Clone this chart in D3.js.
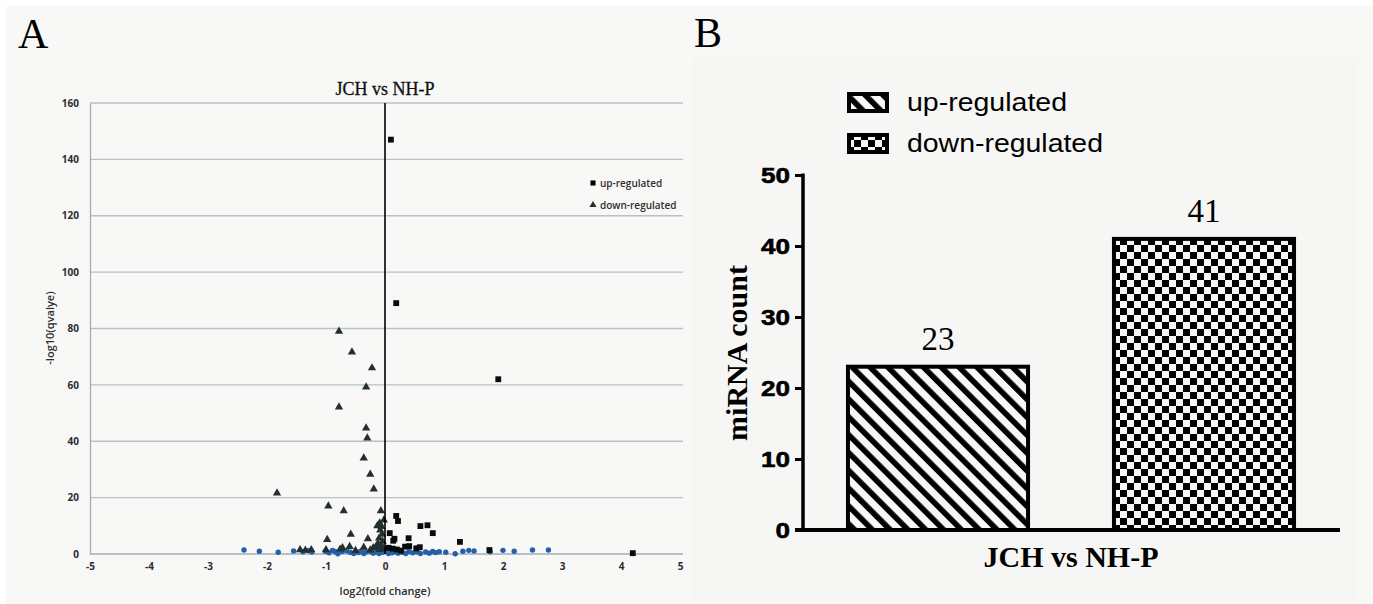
<!DOCTYPE html>
<html>
<head>
<meta charset="utf-8">
<script src="https://cdn.jsdelivr.net/npm/d3@7"></script>
<style>
html,body{margin:0;padding:0;background:#ffffff;}
svg{display:block;}
</style>
</head>
<body>
<svg id="chart" width="1373" height="604"></svg>
<script>
// ---------- Panel A data (volcano plot) ----------
const aTitle = "JCH vs NH-P";
const aXTicks = [-5,-4,-3,-2,-1,0,1,2,3,4,5];
const aYTicks = [0,20,40,60,80,100,120,140,160];
const legendA = ["up-regulated","down-regulated"];

const upX = [0.10,0.19,1.92,4.20,0.19,0.22,0.60,0.72,0.81,0.08,0.16,0.14,0.40,1.27,0.34,0.41,0.53,0.59,0.13,0.20,1.77,0.06,0.27];
const upY = [147,89,62,0.3,13.5,11.7,9.9,10.2,7.4,7.4,5.4,4.7,5.6,4.3,2.6,2.8,2.0,2.4,1.9,1.6,1.4,2.2,1.2];

const downX = [-0.78,-0.56,-0.22,-0.32,-0.78,-0.32,-0.30,-0.36,-0.25,-0.19,-1.83,-0.96,-0.70,-0.07,-0.58,-0.98,-0.29,-0.09,-0.13,-0.06,-0.08,-0.05,-0.10,-0.04,-0.12,-0.07,-0.15,-0.20,-0.60,-0.36,-1.44,-1.35,-1.25,-1.00,-0.76,-0.02,-0.03,-0.09,-0.25,-0.50,-0.72];
const downY = [79,71.6,66,59.2,52.1,44.7,41.1,34,28.3,23,21.6,17,15.3,15.3,7.0,5.1,5.4,11,10,9.7,8.5,7.0,5.6,4.5,3.8,3.0,2.6,2.2,2.6,2.4,1.5,1.3,1.5,1.5,1.7,12,2.0,1.6,1.4,1.2,2.2];

const nsX = [-2.39,-2.13,-1.81,-1.55,-1.39,-1.30,-1.24,-1.01,-0.95,-0.89,-0.85,-0.80,-0.73,-0.65,-0.59,-0.53,-0.49,-0.45,-0.41,-0.36,-0.33,-0.25,-0.20,-0.15,-0.10,-0.04,0.03,0.06,0.08,0.12,0.15,0.22,0.25,0.29,0.35,0.41,0.47,0.54,0.60,0.69,0.75,0.81,0.86,0.92,1.03,1.19,1.32,1.42,1.51,1.78,2.00,2.19,2.50,2.77];
const nsY = [1.4,1.0,0.6,1.1,0.8,1.2,0.7,1.0,0.4,1.3,0.9,0.1,0.9,1.1,0.6,0.2,0.8,0.5,1.0,0.2,0.7,0.9,0.3,0.8,0.2,0.6,0.9,0.2,1.2,0.4,0.8,0.3,1.0,0.6,0.2,0.9,0.4,0.8,0.2,0.7,0.3,0.9,0.5,0.8,0.6,0.1,1.0,1.3,1.1,0.8,1.3,1.0,1.4,1.4];

// ---------- Panel B data (bar chart) ----------
const bCategories = ["up-regulated","down-regulated"];
const bValues = [23,41];
const bYTicks = [0,10,20,30,40,50];
const bXLabel = "JCH vs NH-P";
const bYLabel = "miRNA count";

const svg = d3.select("#chart");
const defs = svg.append("defs");

// patterns
const stripe = defs.append("pattern").attr("id","stripes")
  .attr("patternUnits","userSpaceOnUse").attr("width",12.6).attr("height",12.6)
  .attr("patternTransform","rotate(-45)");
stripe.append("rect").attr("width",12.6).attr("height",12.6).attr("fill","#f7f7f5");
stripe.append("rect").attr("width",5.6).attr("height",12.6).attr("fill","#000");

const checker = defs.append("pattern").attr("id","checker")
  .attr("patternUnits","userSpaceOnUse").attr("width",14).attr("height",14);
checker.append("rect").attr("width",14).attr("height",14).attr("fill","#f7f7f5");
checker.append("rect").attr("width",7).attr("height",7).attr("fill","#000");
checker.append("rect").attr("x",7).attr("y",7).attr("width",7).attr("height",7).attr("fill","#000");

const fills = ["url(#stripes)","url(#checker)"];

// backgrounds
svg.append("rect").attr("x",6).attr("y",6).attr("width",1367).attr("height",598).attr("fill","#f8f8f7");
svg.append("rect").attr("x",692).attr("y",58).attr("width",665).attr("height",542).attr("fill","#f6f6f4");

// panel letters
svg.append("text").attr("x",18).attr("y",48).text("A")
  .attr("font-family","Liberation Serif, serif").attr("font-size",42).attr("fill","#000");
svg.append("text").attr("x",694).attr("y",47).text("B")
  .attr("font-family","Liberation Serif, serif").attr("font-size",42).attr("fill","#000");

// ================= Panel A =================
const xA = d3.scaleLinear().domain([-5,5]).range([90,680]);
const yA = d3.scaleLinear().domain([0,160]).range([554,103]);
const gA = svg.append("g");

// gridlines
gA.append("g").selectAll("line").data(aYTicks.filter(d=>d>0)).join("line")
  .attr("x1",90).attr("x2",683).attr("y1",d=>yA(d)).attr("y2",d=>yA(d))
  .attr("stroke","#b7c2cb").attr("stroke-width",1.3);

// y axis
const axYA = gA.append("g").attr("transform","translate(90,0)")
  .call(d3.axisLeft(yA).tickValues(aYTicks).tickSize(0).tickPadding(11));
axYA.select(".domain").attr("stroke","#a3adb6").attr("stroke-width",1.3);
axYA.selectAll("text").attr("font-family","Open Sans, sans-serif").attr("font-size",10)
  .attr("font-weight",700).attr("fill","#2d2d2d");

// x axis
const axXA = gA.append("g").attr("transform","translate(0,554)")
  .call(d3.axisBottom(xA).tickValues(aXTicks).tickSize(0).tickPadding(9).tickFormat(d=>String(d)));
axXA.select(".domain").attr("stroke","#a3adb6").attr("stroke-width",1.3).attr("d","M90,0H683");
axXA.selectAll("text").attr("font-family","Open Sans, sans-serif").attr("font-size",10)
  .attr("font-weight",700).attr("fill","#2d2d2d");

// points
gA.append("g").selectAll("circle").data(nsX.map((x,i)=>[x,nsY[i]])).join("circle")
  .attr("cx",d=>xA(d[0])).attr("cy",d=>yA(d[1])).attr("r",2.7).attr("fill","#2460a7");
gA.append("g").selectAll("path").data(downX.map((x,i)=>[x,downY[i]])).join("path")
  .attr("d",d3.symbol().type(d3.symbolTriangle).size(30))
  .attr("transform",d=>`translate(${xA(d[0])},${yA(d[1])})`).attr("fill","#24302f");
gA.append("g").selectAll("path").data(upX.map((x,i)=>[x,upY[i]])).join("path")
  .attr("d",d3.symbol().type(d3.symbolSquare).size(34))
  .attr("transform",d=>`translate(${xA(d[0])},${yA(d[1])})`).attr("fill","#0a0a0a");

// vertical zero line
gA.append("line").attr("x1",xA(0)).attr("x2",xA(0)).attr("y1",yA(160)).attr("y2",yA(0))
  .attr("stroke","#000").attr("stroke-width",1.6);

// title
gA.append("text").attr("x",xA(0)).attr("y",95).attr("text-anchor","middle").text(aTitle)
  .attr("font-family","Liberation Serif, serif").attr("font-size",18).attr("fill","#111")
  .attr("stroke","#111").attr("stroke-width",0.3);

// axis titles
gA.append("text").attr("x",xA(0)).attr("y",595).attr("text-anchor","middle").text("log2(fold change)")
  .attr("font-family","Open Sans, sans-serif").attr("font-size",11).attr("font-weight",600).attr("fill","#2d2d2d");
gA.append("text").attr("transform","translate(54,328) rotate(-90)").attr("text-anchor","middle")
  .text("-log10(qvalye)")
  .attr("font-family","Open Sans, sans-serif").attr("font-size",11).attr("font-weight",600).attr("fill","#2d2d2d");

// legend A
const legA = gA.append("g");
legA.append("path").attr("d",d3.symbol().type(d3.symbolSquare).size(26))
  .attr("transform","translate(593,183)").attr("fill","#000");
legA.append("path").attr("d",d3.symbol().type(d3.symbolTriangle).size(22))
  .attr("transform","translate(593,205)").attr("fill","#24302f");
legA.selectAll("text").data(legendA).join("text")
  .attr("x",600).attr("y",(d,i)=>186.5+i*22).text(d=>d)
  .attr("font-family","Open Sans, sans-serif").attr("font-size",10).attr("font-weight",600).attr("fill","#2d2d2d");

// ================= Panel B =================
const xB = d3.scaleBand().domain(bCategories).range([803,1339]).paddingInner(0.323).paddingOuter(0.169);
const yB = d3.scaleLinear().domain([0,50]).range([530,175]);
const gB = svg.append("g");

// bars
gB.selectAll("rect.bar").data(bValues).join("rect").attr("class","bar")
  .attr("x",(d,i)=>xB(bCategories[i])).attr("width",xB.bandwidth())
  .attr("y",d=>yB(d)).attr("height",d=>yB(0)-yB(d))
  .attr("fill",(d,i)=>fills[i]).attr("stroke","#000").attr("stroke-width",4);

// bar labels
gB.selectAll("text.val").data(bValues).join("text").attr("class","val")
  .attr("x",(d,i)=>xB(bCategories[i])+xB.bandwidth()/2).attr("y",d=>yB(d)-17)
  .attr("text-anchor","middle").text(d=>d)
  .attr("font-family","Liberation Serif, serif").attr("font-size",33).attr("fill","#000");

// y axis
const axYB = gB.append("g").attr("transform","translate(803,0)")
  .call(d3.axisLeft(yB).tickValues(bYTicks).tickSize(8).tickPadding(5));
axYB.select(".domain").attr("stroke","#000").attr("stroke-width",3.5).attr("d","M0,173.5V531");
axYB.selectAll(".tick line").attr("stroke","#000").attr("stroke-width",3);
axYB.selectAll("text").attr("font-family","Liberation Sans, Arial, sans-serif").attr("font-size",22)
  .attr("font-weight","bold").attr("fill","#000").attr("stroke","#000").attr("stroke-width",0.6)
  .attr("textLength",d=>String(d).length*14.5).attr("lengthAdjust","spacingAndGlyphs");

// x axis baseline
gB.append("line").attr("x1",795).attr("x2",1340).attr("y1",yB(0)).attr("y2",yB(0))
  .attr("stroke","#000").attr("stroke-width",4);

// axis labels
gB.append("text").attr("x",1071).attr("y",567).attr("text-anchor","middle").text(bXLabel)
  .attr("font-family","Liberation Serif, serif").attr("font-size",30).attr("font-weight","bold").attr("fill","#000");
gB.append("text").attr("transform","translate(747,353) rotate(-90)").attr("text-anchor","middle").text(bYLabel)
  .attr("font-family","Liberation Serif, serif").attr("font-size",30).attr("font-weight","bold").attr("fill","#000");

// legend B
const legB = gB.append("g");
legB.selectAll("rect").data(bCategories).join("rect")
  .attr("x",849).attr("y",(d,i)=>94+i*41).attr("width",38).attr("height",17)
  .attr("fill",(d,i)=>fills[i]).attr("stroke","#000").attr("stroke-width",4);
legB.selectAll("text").data(bCategories).join("text")
  .attr("x",907).attr("y",(d,i)=>111+i*41).text(d=>d)
  .attr("font-family","Liberation Sans, Arial, sans-serif").attr("font-size",25).attr("fill","#000")
  .attr("textLength",(d,i)=>[160,196][i]).attr("lengthAdjust","spacingAndGlyphs");
</script>
</body>
</html>
